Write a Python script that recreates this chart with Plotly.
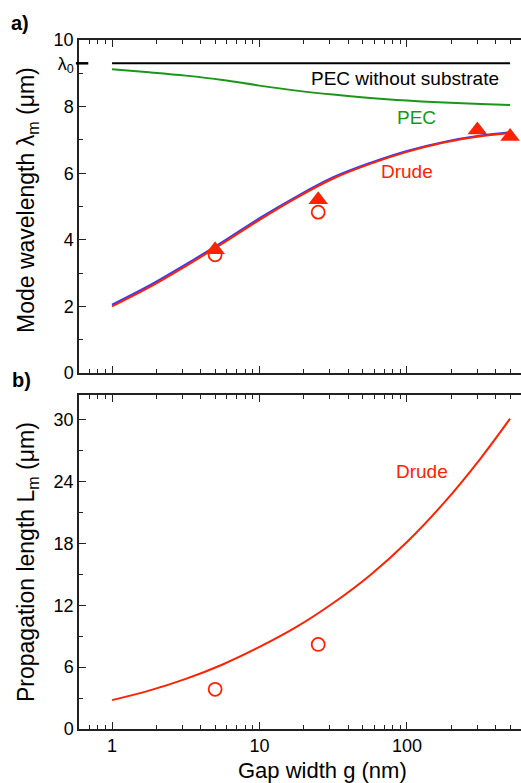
import math
import plotly.graph_objects as go

# ---- data ----------------------------------------------------------------
# gap widths sampled at quarter-decade steps (nm)
gap_nm = [1, 1.78, 3.16, 5.62, 10, 17.8, 31.6, 56.2, 100, 178, 316, 500]

# mode wavelength (um)
lambda0 = 9.3
lambda_pec = [9.12, 9.03, 8.93, 8.8, 8.63, 8.48, 8.36, 8.26, 8.18, 8.12, 8.08, 8.05]
lambda_drude = [2.0, 2.57, 3.21, 3.89, 4.6, 5.26, 5.84, 6.28, 6.64, 6.92, 7.11, 7.21]
lambda_drude_alt = [2.05, 2.62, 3.26, 3.94, 4.65, 5.3, 5.88, 6.31, 6.67, 6.94, 7.13, 7.23]

tri_gap = [5, 25, 300, 500]
tri_lambda = [3.7, 5.2, 7.3, 7.1]

circ_gap = [5, 25]
circ_lambda = [3.55, 4.83]

# propagation length (um)
length_drude = [2.8, 3.72, 4.86, 6.26, 7.96, 9.9, 12.22, 14.92, 18.14, 21.93, 26.26, 30.1]
circ_length = [3.85, 8.2]

# axis ticks
x_major = [1, 10, 100]
x_minor = [0.6, 0.7, 0.8, 0.9, 2, 3, 4, 5, 6, 7, 8, 9,
           20, 30, 40, 50, 60, 70, 80, 90, 200, 300, 400, 500, 600]
ya_major = [0, 2, 4, 6, 8, lambda0, 10]
ya_text = ["0", "2", "4", "6", "8", "λ<sub>0</sub>", "10"]
ya_minor = [1, 3, 5, 7, 9]
yb_major = [0, 6, 12, 18, 24, 30]
yb_minor = [3, 9, 15, 21, 27]

RED = "#ff2200"
BLUE = "#3a3aff"
GREEN = "#1a961a"
FONT = "Liberation Sans, Arial, sans-serif"

fig = go.Figure()

# panel a
fig.add_trace(go.Scatter(x=[gap_nm[0], gap_nm[-1]], y=[lambda0, lambda0], mode="lines",
                         line=dict(color="black", width=2), xaxis="x", yaxis="y"))
fig.add_trace(go.Scatter(x=gap_nm, y=lambda_pec, mode="lines", line=dict(color=GREEN, width=2),
                         line_shape="spline", xaxis="x", yaxis="y"))
fig.add_trace(go.Scatter(x=gap_nm, y=lambda_drude_alt, mode="lines", line=dict(color=BLUE, width=2),
                         line_shape="spline", xaxis="x", yaxis="y"))
fig.add_trace(go.Scatter(x=gap_nm, y=lambda_drude, mode="lines", line=dict(color=RED, width=2),
                         line_shape="spline", xaxis="x", yaxis="y"))
fig.add_trace(go.Scatter(x=circ_gap, y=circ_lambda, mode="markers",
                         marker=dict(symbol="circle-open", size=13, color=RED, line=dict(width=1.8)),
                         xaxis="x", yaxis="y"))
fig.add_trace(go.Scatter(x=tri_gap, y=tri_lambda, mode="markers",
                         marker=dict(symbol="triangle-up", size=17, color=RED),
                         xaxis="x", yaxis="y"))

# panel b
fig.add_trace(go.Scatter(x=gap_nm, y=length_drude, mode="lines", line=dict(color=RED, width=2),
                         line_shape="spline", xaxis="x2", yaxis="y2"))
fig.add_trace(go.Scatter(x=circ_gap, y=circ_length, mode="markers",
                         marker=dict(symbol="circle-open", size=13, color=RED, line=dict(width=1.8)),
                         xaxis="x2", yaxis="y2"))

axis_line = dict(showline=True, linecolor="#222", linewidth=1.5, showgrid=False, zeroline=False,
                 ticks="inside", ticklen=7, tickwidth=1.3, tickcolor="#222",
                 tickfont=dict(family=FONT, size=18, color="black"))

x_common = dict(axis_line, type="log", range=[math.log10(0.597), math.log10(593)],
                tickmode="array", tickvals=x_major, ticktext=["1", "10", "100"], mirror="ticks",
                minor=dict(tickmode="array", tickvals=x_minor, ticks="inside", ticklen=4,
                           tickwidth=1.2, tickcolor="#222"))

fig.update_layout(
    width=521, height=783,
    margin=dict(l=79, r=0, t=40, b=54),
    paper_bgcolor="white", plot_bgcolor="white",
    showlegend=False,
    font=dict(family=FONT, color="black"),
    xaxis=dict(x_common, anchor="y", showticklabels=False),
    xaxis2=dict(x_common, anchor="y2", showticklabels=True),
    yaxis=dict(axis_line, domain=[0.5167, 1.0], range=[0, 10], anchor="x",
               tickmode="array", tickvals=ya_major, ticktext=ya_text,
               minor=dict(tickmode="array", tickvals=ya_minor, ticks="inside", ticklen=4,
                          tickwidth=1.2, tickcolor="#222")),
    yaxis2=dict(axis_line, domain=[0.0, 0.4848], range=[0, 32.4], anchor="x2",
                tickmode="array", tickvals=yb_major,
                minor=dict(tickmode="array", tickvals=yb_minor, ticks="inside", ticklen=4,
                           tickwidth=1.2, tickcolor="#222")),
)

# bold marker for the free-space wavelength on the left axis
fig.add_shape(type="line", xref="paper", yref="y", x0=-0.007, x1=0.021, y0=lambda0, y1=lambda0,
              line=dict(color="black", width=2.5))

ann = [
    dict(text="<b>a)</b>", x=(20 - 79) / 442, y=(729 - 23) / 689, size=20, color="black"),
    dict(text="<b>b)</b>", x=(21 - 79) / 442, y=(729 - 380) / 689, size=20, color="black"),
    dict(text="PEC without substrate", x=(405 - 79) / 442, y=(729 - 78) / 689, size=19, color="black"),
    dict(text="PEC", x=(416 - 79) / 442, y=(729 - 118) / 689, size=19, color=GREEN),
    dict(text="Drude", x=(407 - 79) / 442, y=(729 - 171) / 689, size=19, color=RED),
    dict(text="Drude", x=(422 - 79) / 442, y=(729 - 471) / 689, size=19, color=RED),
    dict(text="Gap width g (nm)", x=(322 - 79) / 442, y=(729 - 770) / 689, size=22, color="black"),
]
for a in ann:
    fig.add_annotation(text=a["text"], x=a["x"], y=a["y"], xref="paper", yref="paper",
                       showarrow=False, xanchor="center", yanchor="middle",
                       font=dict(family=FONT, size=a["size"], color=a["color"]))

for text, yc in [("Mode wavelength λ<sub>m</sub> (μm)", 200),
                 ("Propagation length L<sub>m</sub> (μm)", 562)]:
    fig.add_annotation(text=text, x=(27 - 79) / 442, y=(729 - yc) / 689, xref="paper", yref="paper",
                       showarrow=False, textangle=-90, xanchor="center", yanchor="middle",
                       font=dict(family=FONT, size=23, color="black"))

fig.write_html("out.html")
